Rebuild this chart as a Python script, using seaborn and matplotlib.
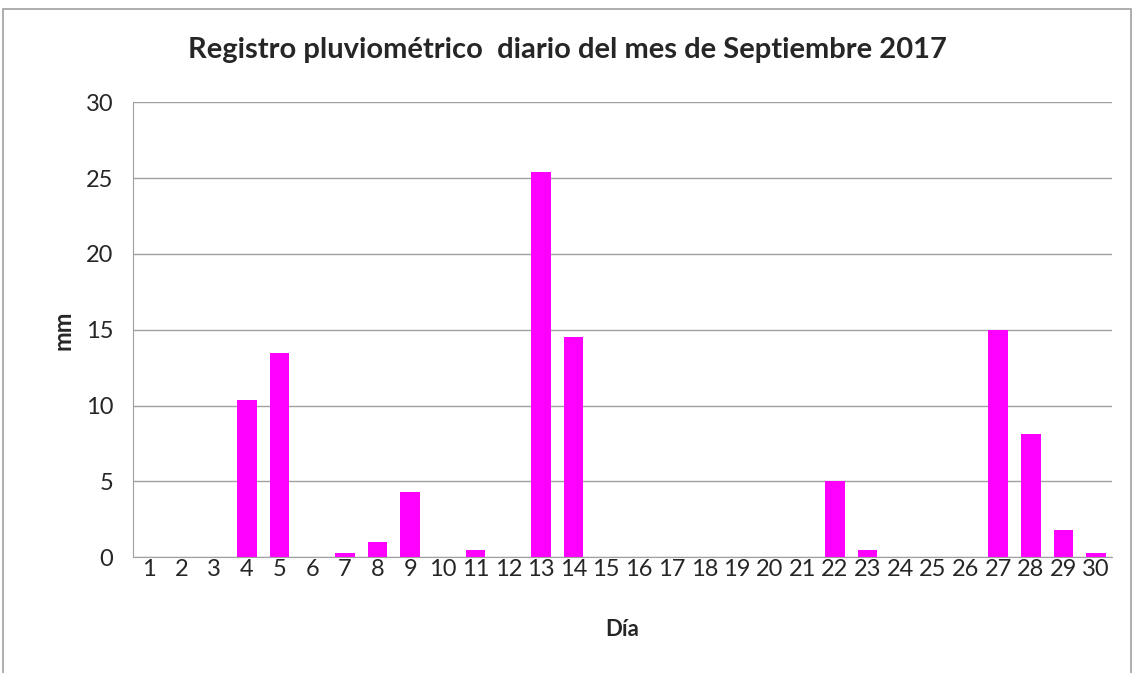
import matplotlib
matplotlib.use("Agg")
import matplotlib.pyplot as plt
import matplotlib.patches as mpatches
import seaborn as sns
import pandas as pd
import numpy as np

# Daily rainfall, September 2017
days = list(range(1, 31))
rain_mm = [0, 0, 0, 10.4, 13.5, 0, 0.3, 1.0, 4.3, 0,
           0.5, 0, 25.4, 14.5, 0, 0, 0, 0, 0, 0,
           0, 5.0, 0.5, 0, 0, 0, 15.0, 8.1, 1.8, 0.3]

df = pd.DataFrame({"Día": [str(d) for d in days], "mm": rain_mm})

sns.set_style("white")
plt.rcParams["font.family"] = ["Lato", "DejaVu Sans"]

fig = plt.figure(figsize=(11.34, 6.73), dpi=100)
ax = fig.add_axes([0.117, 0.172, 0.864, 0.676])

# Excel-like chart frame
fig.patches.append(mpatches.Rectangle((0.003, -0.01), 0.994, 0.997, transform=fig.transFigure,
                                      fill=False, edgecolor="#a0a0a0", linewidth=1.2))

sns.barplot(data=df, x="Día", y="mm", color="#ff00ff", width=0.6, ax=ax,
            saturation=1, linewidth=0)

ax.set_ylim(0, 30)
ax.set_yticks(np.arange(0, 31, 5))
ax.set_xlim(-0.5, len(days) - 0.5)
ax.yaxis.grid(True, color="#a0a0a0", linewidth=1)
ax.set_axisbelow(True)

for s in ["top", "right"]:
    ax.spines[s].set_visible(False)
ax.spines["left"].set_color("#a0a0a0")
ax.spines["bottom"].set_color("#a0a0a0")

ax.tick_params(axis="y", which="major", length=8, color="#a0a0a0", labelsize=17, pad=6)
ax.tick_params(axis="x", which="major", length=0, labelsize=17, pad=1)
ax.set_xticks(np.arange(-0.5, len(days), 1), minor=True)
ax.tick_params(axis="x", which="minor", length=10, color="#a0a0a0")

ax.set_xlabel("Día", fontsize=16, fontweight="bold", labelpad=28)
ax.set_ylabel("mm", fontsize=17, fontweight="bold", labelpad=8)
fig.text(0.5, 0.925, "Registro pluviométrico  diario del mes de Septiembre 2017",
         ha="center", va="center", fontsize=21, fontweight="bold")

fig.savefig("out.png", dpi=100)
